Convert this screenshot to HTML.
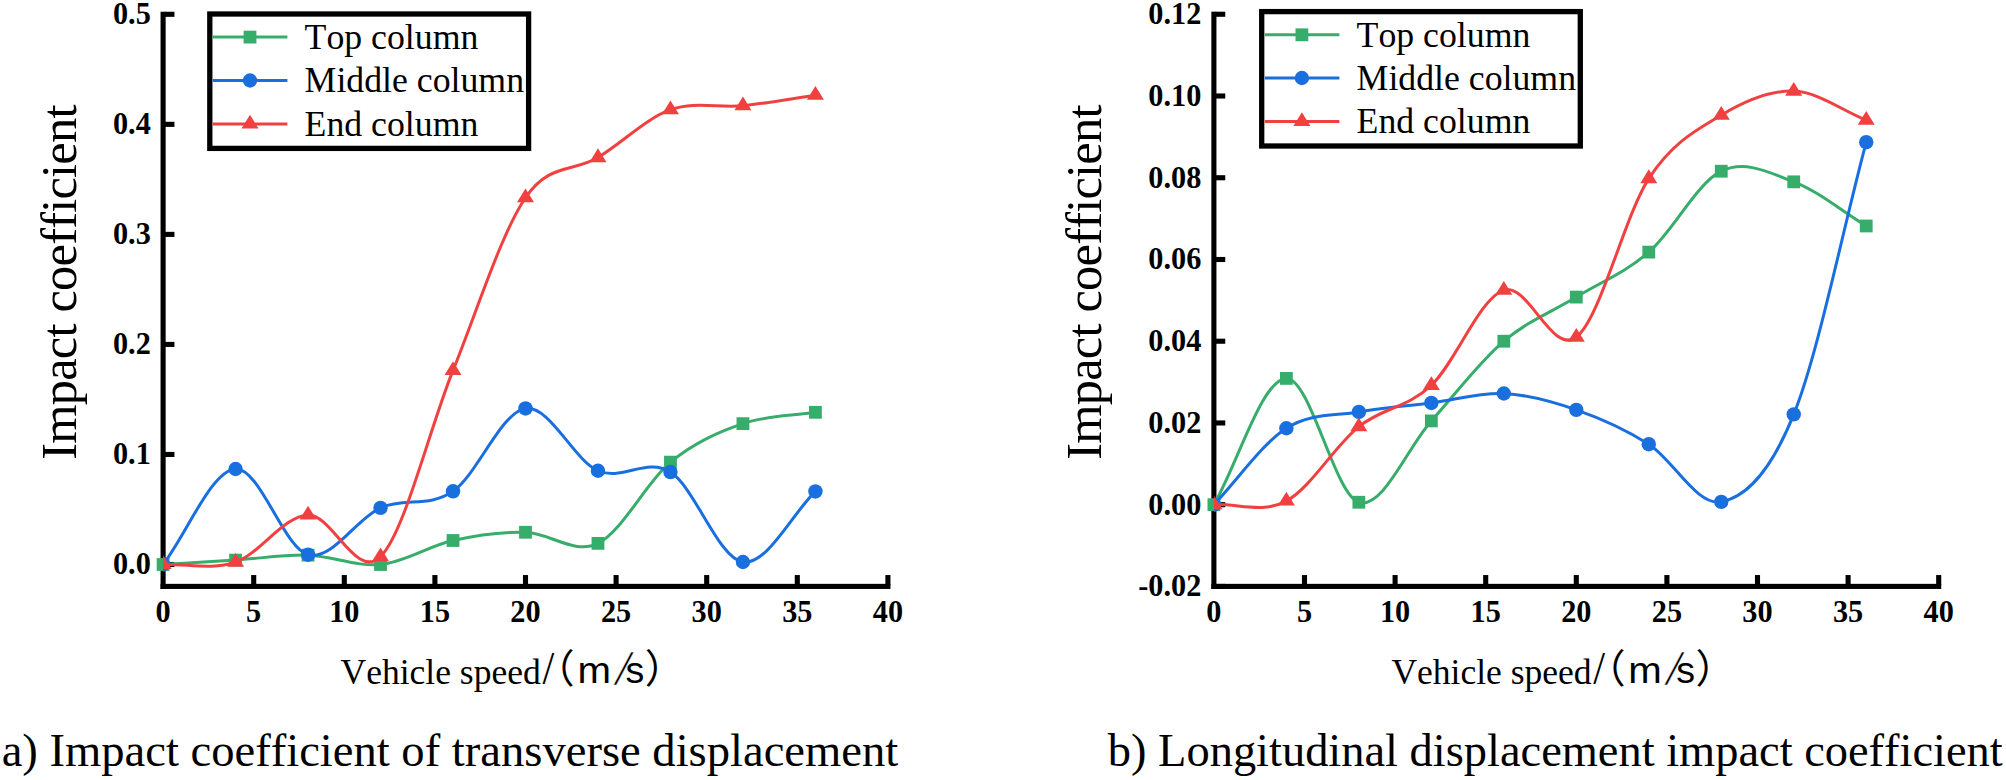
<!DOCTYPE html>
<html lang="en">
<head>
<meta charset="utf-8">
<title>Impact coefficient charts</title>
<style>
html,body{margin:0;padding:0;background:#fff;}
svg{display:block;}
text{fill:#000;font-kerning:none;font-variant-ligatures:none;}
</style>
</head>
<body>
<svg width="2006" height="780" viewBox="0 0 2006 780">
<rect width="2006" height="780" fill="#fff"/>
<g id="left">
<rect x="160.55" y="11.75" width="5.1" height="577.2"/>
<rect x="160.55" y="583.85" width="729.9" height="5.1"/>
<rect x="251.15" y="575.05" width="5.1" height="9.8"/>
<rect x="341.75" y="575.05" width="5.1" height="9.8"/>
<rect x="432.35" y="575.05" width="5.1" height="9.8"/>
<rect x="522.95" y="575.05" width="5.1" height="9.8"/>
<rect x="613.55" y="575.05" width="5.1" height="9.8"/>
<rect x="704.15" y="575.05" width="5.1" height="9.8"/>
<rect x="794.75" y="575.05" width="5.1" height="9.8"/>
<rect x="885.35" y="575.05" width="5.1" height="9.8"/>
<rect x="164.65" y="561.95" width="9.8" height="5.1"/>
<rect x="164.65" y="451.91" width="9.8" height="5.1"/>
<rect x="164.65" y="341.87" width="9.8" height="5.1"/>
<rect x="164.65" y="231.83" width="9.8" height="5.1"/>
<rect x="164.65" y="121.79" width="9.8" height="5.1"/>
<rect x="164.65" y="11.75" width="9.8" height="5.1"/>
<g font-family="'Liberation Serif', serif" font-weight="bold" font-size="30.3px" transform="scale(1,1.035)">
<text x="163.1" y="601.16" text-anchor="middle">0</text>
<text x="253.7" y="601.16" text-anchor="middle">5</text>
<text x="344.3" y="601.16" text-anchor="middle">10</text>
<text x="434.9" y="601.16" text-anchor="middle">15</text>
<text x="525.5" y="601.16" text-anchor="middle">20</text>
<text x="616.1" y="601.16" text-anchor="middle">25</text>
<text x="706.7" y="601.16" text-anchor="middle">30</text>
<text x="797.3" y="601.16" text-anchor="middle">35</text>
<text x="887.9" y="601.16" text-anchor="middle">40</text>
<text x="150.8" y="555.07" text-anchor="end">0.0</text>
<text x="150.8" y="448.75" text-anchor="end">0.1</text>
<text x="150.8" y="342.43" text-anchor="end">0.2</text>
<text x="150.8" y="236.12" text-anchor="end">0.3</text>
<text x="150.8" y="129.8" text-anchor="end">0.4</text>
<text x="150.8" y="23.48" text-anchor="end">0.5</text>
</g>
<clipPath id="clipL"><rect x="163.1" y="0" width="800" height="600"/></clipPath>
<g>
<path d="M163.1,564.5 C187.26,563.03 211.42,561.66 235.58,560.1 C259.74,558.54 283.9,554.41 308.06,555.15 C332.22,555.88 356.38,566.94 380.54,564.5 C404.7,562.06 428.86,545.88 453.02,540.51 C477.18,535.14 501.34,531.78 525.5,532.26 C549.66,532.74 573.82,555.05 597.98,543.37 C622.14,531.69 646.3,482.12 670.46,462.16 C694.62,442.21 718.78,431.96 742.94,423.65 C767.1,415.34 791.26,416.09 815.42,412.31" fill="none" stroke="#37AD6B" stroke-width="3.0" stroke-linejoin="round" stroke-linecap="butt"/>
<rect x="156.7" y="558.1" width="12.8" height="12.8" fill="#37AD6B"/>
<rect x="229.18" y="553.7" width="12.8" height="12.8" fill="#37AD6B"/>
<rect x="301.66" y="548.75" width="12.8" height="12.8" fill="#37AD6B"/>
<rect x="374.14" y="558.1" width="12.8" height="12.8" fill="#37AD6B"/>
<rect x="446.62" y="534.11" width="12.8" height="12.8" fill="#37AD6B"/>
<rect x="519.1" y="525.86" width="12.8" height="12.8" fill="#37AD6B"/>
<rect x="591.58" y="536.97" width="12.8" height="12.8" fill="#37AD6B"/>
<rect x="664.06" y="455.76" width="12.8" height="12.8" fill="#37AD6B"/>
<rect x="736.54" y="417.25" width="12.8" height="12.8" fill="#37AD6B"/>
<rect x="809.02" y="405.91" width="12.8" height="12.8" fill="#37AD6B"/>
</g>
<g clip-path="url(#clipL)">
<path d="M163.1,564.5 C187.26,532.66 211.42,470.62 235.58,468.99 C259.74,467.35 283.9,548.23 308.06,554.71 C332.22,561.18 356.38,518.39 380.54,507.83 C404.7,497.27 428.86,507.88 453.02,491.32 C477.18,474.76 501.34,411.89 525.5,408.46 C549.66,405.03 573.82,460.15 597.98,470.75 C622.14,481.35 646.3,456.86 670.46,472.07 C694.62,487.27 718.78,558.74 742.94,561.97 C767.1,565.2 791.26,514.95 815.42,491.43" fill="none" stroke="#1A6FDF" stroke-width="3.0" stroke-linejoin="round" stroke-linecap="butt"/>
<circle cx="163.1" cy="564.5" r="7.2" fill="#1A6FDF"/>
<circle cx="235.58" cy="468.99" r="7.2" fill="#1A6FDF"/>
<circle cx="308.06" cy="554.71" r="7.2" fill="#1A6FDF"/>
<circle cx="380.54" cy="507.83" r="7.2" fill="#1A6FDF"/>
<circle cx="453.02" cy="491.32" r="7.2" fill="#1A6FDF"/>
<circle cx="525.5" cy="408.46" r="7.2" fill="#1A6FDF"/>
<circle cx="597.98" cy="470.75" r="7.2" fill="#1A6FDF"/>
<circle cx="670.46" cy="472.07" r="7.2" fill="#1A6FDF"/>
<circle cx="742.94" cy="561.97" r="7.2" fill="#1A6FDF"/>
<circle cx="815.42" cy="491.43" r="7.2" fill="#1A6FDF"/>
</g>
<g clip-path="url(#clipL)">
<path d="M163.1,564.5 C187.26,563.69 211.42,570.33 235.58,562.08 C259.74,553.83 283.9,515.88 308.06,514.98 C332.22,514.08 356.38,580.79 380.54,556.69 C404.7,532.59 428.86,430.21 453.02,370.39 C477.18,310.56 501.34,233.21 525.5,197.74 C549.66,162.27 573.82,172.24 597.98,157.57 C622.14,142.9 646.3,118.34 670.46,109.7 C694.62,101.07 718.78,108.16 742.94,105.74 C767.1,103.32 791.26,98.7 815.42,95.18" fill="none" stroke="#F14040" stroke-width="3.0" stroke-linejoin="round" stroke-linecap="butt"/>
<polygon points="163.1,555.3 154.6,569.1 171.6,569.1" fill="#F14040"/>
<polygon points="235.58,552.88 227.08,566.68 244.08,566.68" fill="#F14040"/>
<polygon points="308.06,505.78 299.56,519.58 316.56,519.58" fill="#F14040"/>
<polygon points="380.54,547.49 372.04,561.29 389.04,561.29" fill="#F14040"/>
<polygon points="453.02,361.19 444.52,374.99 461.52,374.99" fill="#F14040"/>
<polygon points="525.5,188.54 517,202.34 534,202.34" fill="#F14040"/>
<polygon points="597.98,148.37 589.48,162.17 606.48,162.17" fill="#F14040"/>
<polygon points="670.46,100.5 661.96,114.3 678.96,114.3" fill="#F14040"/>
<polygon points="742.94,96.54 734.44,110.34 751.44,110.34" fill="#F14040"/>
<polygon points="815.42,85.98 806.92,99.78 823.92,99.78" fill="#F14040"/>
</g>
<rect x="209.8" y="14" width="318.8" height="134.4" fill="#fff" stroke="#000" stroke-width="5.3"/>
<line x1="212.8" y1="37.1" x2="287.4" y2="37.1" stroke="#37AD6B" stroke-width="3.0"/>
<rect x="243.6" y="30.7" width="12.8" height="12.8" fill="#37AD6B"/>
<text x="304.6" y="49.2" font-family="'Liberation Serif', serif" font-size="35.75px">Top column</text>
<line x1="212.8" y1="80.5" x2="287.4" y2="80.5" stroke="#1A6FDF" stroke-width="3.0"/>
<circle cx="250" cy="80.5" r="7.2" fill="#1A6FDF"/>
<text x="304.6" y="92.3" font-family="'Liberation Serif', serif" font-size="35.75px">Middle column</text>
<line x1="212.8" y1="124" x2="287.4" y2="124" stroke="#F14040" stroke-width="3.0"/>
<polygon points="250,114.8 241.5,128.6 258.5,128.6" fill="#F14040"/>
<text x="304.6" y="135.8" font-family="'Liberation Serif', serif" font-size="35.75px">End column</text>
<text transform="translate(75.7,282.2) rotate(-90)" text-anchor="middle" font-family="'Liberation Serif', serif" font-size="50.5px" textLength="355.3" lengthAdjust="spacing">Impact coefficient</text>
<text x="340.6" y="683.6" font-family="'Liberation Serif', serif" font-size="35.5px">Vehicle speed</text>
<text transform="translate(542.4,684.4) scale(0.9,1)" font-family="'Liberation Serif', serif" font-size="47px">/</text>
<text x="535.1" y="682.9" font-family="'Noto Sans CJK SC', sans-serif" font-size="39.6px">（</text>
<text transform="translate(621.7,684.6) scale(0.85,1)" font-family="'Liberation Sans', sans-serif" font-size="48px" stroke="#fff" stroke-width="0.5">⁄</text>
<text transform="translate(577.4,682.7) scale(1.07,1)" font-family="'Liberation Sans', sans-serif" font-size="37.6px">m</text>
<text x="625.5" y="682.7" font-family="'Liberation Sans', sans-serif" font-size="37.6px">s</text>
<text x="644.8" y="682.9" font-family="'Noto Sans CJK SC', sans-serif" font-size="39.6px">）</text>
</g>
<g id="right">
<rect x="1211.35" y="11.65" width="5.1" height="577.3"/>
<rect x="1211.35" y="583.85" width="729.9" height="5.1"/>
<rect x="1301.95" y="575.05" width="5.1" height="9.8"/>
<rect x="1392.55" y="575.05" width="5.1" height="9.8"/>
<rect x="1483.15" y="575.05" width="5.1" height="9.8"/>
<rect x="1573.75" y="575.05" width="5.1" height="9.8"/>
<rect x="1664.35" y="575.05" width="5.1" height="9.8"/>
<rect x="1754.95" y="575.05" width="5.1" height="9.8"/>
<rect x="1845.55" y="575.05" width="5.1" height="9.8"/>
<rect x="1936.15" y="575.05" width="5.1" height="9.8"/>
<rect x="1215.45" y="583.89" width="9.8" height="5.1"/>
<rect x="1215.45" y="502.15" width="9.8" height="5.1"/>
<rect x="1215.45" y="420.41" width="9.8" height="5.1"/>
<rect x="1215.45" y="338.67" width="9.8" height="5.1"/>
<rect x="1215.45" y="256.93" width="9.8" height="5.1"/>
<rect x="1215.45" y="175.19" width="9.8" height="5.1"/>
<rect x="1215.45" y="93.45" width="9.8" height="5.1"/>
<rect x="1215.45" y="11.71" width="9.8" height="5.1"/>
<g font-family="'Liberation Serif', serif" font-weight="bold" font-size="30.3px" transform="scale(1,1.035)">
<text x="1213.9" y="601.16" text-anchor="middle">0</text>
<text x="1304.5" y="601.16" text-anchor="middle">5</text>
<text x="1395.1" y="601.16" text-anchor="middle">10</text>
<text x="1485.7" y="601.16" text-anchor="middle">15</text>
<text x="1576.3" y="601.16" text-anchor="middle">20</text>
<text x="1666.9" y="601.16" text-anchor="middle">25</text>
<text x="1757.5" y="601.16" text-anchor="middle">30</text>
<text x="1848.1" y="601.16" text-anchor="middle">35</text>
<text x="1938.7" y="601.16" text-anchor="middle">40</text>
<text x="1201.3" y="576.27" text-anchor="end">-0.02</text>
<text x="1201.3" y="497.29" text-anchor="end">0.00</text>
<text x="1201.3" y="418.32" text-anchor="end">0.02</text>
<text x="1201.3" y="339.34" text-anchor="end">0.04</text>
<text x="1201.3" y="260.37" text-anchor="end">0.06</text>
<text x="1201.3" y="181.39" text-anchor="end">0.08</text>
<text x="1201.3" y="102.42" text-anchor="end">0.10</text>
<text x="1201.3" y="23.44" text-anchor="end">0.12</text>
</g>
<clipPath id="clipR"><rect x="1213.9" y="0" width="800" height="600"/></clipPath>
<g>
<path d="M1213.9,504.7 C1238.06,462.6 1262.22,378.82 1286.38,378.41 C1310.54,378 1334.7,495.16 1358.86,502.25 C1383.02,509.33 1407.18,447.75 1431.34,420.92 C1455.5,394.08 1479.66,361.86 1503.82,341.22 C1527.98,320.58 1552.14,311.93 1576.3,297.08 C1600.46,282.23 1624.62,273.1 1648.78,252.12 C1672.94,231.14 1697.1,182.92 1721.26,171.2 C1745.42,159.48 1769.58,172.7 1793.74,181.83 C1817.9,190.95 1842.06,211.25 1866.22,225.97" fill="none" stroke="#37AD6B" stroke-width="3.0" stroke-linejoin="round" stroke-linecap="butt"/>
<rect x="1207.5" y="498.3" width="12.8" height="12.8" fill="#37AD6B"/>
<rect x="1279.98" y="372.01" width="12.8" height="12.8" fill="#37AD6B"/>
<rect x="1352.46" y="495.85" width="12.8" height="12.8" fill="#37AD6B"/>
<rect x="1424.94" y="414.52" width="12.8" height="12.8" fill="#37AD6B"/>
<rect x="1497.42" y="334.82" width="12.8" height="12.8" fill="#37AD6B"/>
<rect x="1569.9" y="290.68" width="12.8" height="12.8" fill="#37AD6B"/>
<rect x="1642.38" y="245.72" width="12.8" height="12.8" fill="#37AD6B"/>
<rect x="1714.86" y="164.8" width="12.8" height="12.8" fill="#37AD6B"/>
<rect x="1787.34" y="175.43" width="12.8" height="12.8" fill="#37AD6B"/>
<rect x="1859.82" y="219.57" width="12.8" height="12.8" fill="#37AD6B"/>
</g>
<g clip-path="url(#clipR)">
<path d="M1213.9,504.7 C1238.06,479.22 1262.22,443.74 1286.38,428.27 C1310.54,412.81 1334.7,416.15 1358.86,411.93 C1383.02,407.7 1407.18,406 1431.34,402.93 C1455.5,399.87 1479.66,392.38 1503.82,393.53 C1527.98,394.69 1552.14,401.44 1576.3,409.88 C1600.46,418.33 1624.62,428.89 1648.78,444.21 C1672.94,459.54 1697.1,506.81 1721.26,501.84 C1745.42,496.87 1769.58,474.32 1793.74,414.38 C1817.9,354.43 1842.06,232.91 1866.22,142.18" fill="none" stroke="#1A6FDF" stroke-width="3.0" stroke-linejoin="round" stroke-linecap="butt"/>
<circle cx="1213.9" cy="504.7" r="7.2" fill="#1A6FDF"/>
<circle cx="1286.38" cy="428.27" r="7.2" fill="#1A6FDF"/>
<circle cx="1358.86" cy="411.93" r="7.2" fill="#1A6FDF"/>
<circle cx="1431.34" cy="402.93" r="7.2" fill="#1A6FDF"/>
<circle cx="1503.82" cy="393.53" r="7.2" fill="#1A6FDF"/>
<circle cx="1576.3" cy="409.88" r="7.2" fill="#1A6FDF"/>
<circle cx="1648.78" cy="444.21" r="7.2" fill="#1A6FDF"/>
<circle cx="1721.26" cy="501.84" r="7.2" fill="#1A6FDF"/>
<circle cx="1793.74" cy="414.38" r="7.2" fill="#1A6FDF"/>
<circle cx="1866.22" cy="142.18" r="7.2" fill="#1A6FDF"/>
</g>
<g clip-path="url(#clipR)">
<path d="M1213.9,504.7 C1238.06,503.47 1262.22,514.03 1286.38,501.02 C1310.54,488.01 1334.7,445.92 1358.86,426.64 C1383.02,407.36 1407.18,408.11 1431.34,385.36 C1455.5,362.61 1479.66,298.17 1503.82,290.13 C1527.98,282.09 1552.14,355.73 1576.3,337.13 C1600.46,318.54 1624.62,215.54 1648.78,178.56 C1672.94,141.57 1697.1,129.79 1721.26,115.21 C1745.42,100.63 1769.58,90.28 1793.74,91.1 C1817.9,91.91 1842.06,110.44 1866.22,120.11" fill="none" stroke="#F14040" stroke-width="3.0" stroke-linejoin="round" stroke-linecap="butt"/>
<polygon points="1213.9,495.5 1205.4,509.3 1222.4,509.3" fill="#F14040"/>
<polygon points="1286.38,491.82 1277.88,505.62 1294.88,505.62" fill="#F14040"/>
<polygon points="1358.86,417.44 1350.36,431.24 1367.36,431.24" fill="#F14040"/>
<polygon points="1431.34,376.16 1422.84,389.96 1439.84,389.96" fill="#F14040"/>
<polygon points="1503.82,280.93 1495.32,294.73 1512.32,294.73" fill="#F14040"/>
<polygon points="1576.3,327.93 1567.8,341.73 1584.8,341.73" fill="#F14040"/>
<polygon points="1648.78,169.36 1640.28,183.16 1657.28,183.16" fill="#F14040"/>
<polygon points="1721.26,106.01 1712.76,119.81 1729.76,119.81" fill="#F14040"/>
<polygon points="1793.74,81.9 1785.24,95.7 1802.24,95.7" fill="#F14040"/>
<polygon points="1866.22,110.91 1857.72,124.71 1874.72,124.71" fill="#F14040"/>
</g>
<rect x="1261.7" y="11.6" width="318.6" height="134.4" fill="#fff" stroke="#000" stroke-width="5.3"/>
<line x1="1264.8" y1="34.8" x2="1339.4" y2="34.8" stroke="#37AD6B" stroke-width="3.0"/>
<rect x="1295.5" y="28.4" width="12.8" height="12.8" fill="#37AD6B"/>
<text x="1356.6" y="46.8" font-family="'Liberation Serif', serif" font-size="35.75px">Top column</text>
<line x1="1264.8" y1="78" x2="1339.4" y2="78" stroke="#1A6FDF" stroke-width="3.0"/>
<circle cx="1301.9" cy="78" r="7.2" fill="#1A6FDF"/>
<text x="1356.6" y="89.8" font-family="'Liberation Serif', serif" font-size="35.75px">Middle column</text>
<line x1="1264.8" y1="121.5" x2="1339.4" y2="121.5" stroke="#F14040" stroke-width="3.0"/>
<polygon points="1301.9,112.3 1293.4,126.1 1310.4,126.1" fill="#F14040"/>
<text x="1356.6" y="133.3" font-family="'Liberation Serif', serif" font-size="35.75px">End column</text>
<text transform="translate(1101.2,282.2) rotate(-90)" text-anchor="middle" font-family="'Liberation Serif', serif" font-size="50.5px" textLength="355.3" lengthAdjust="spacing">Impact coefficient</text>
<text x="1391.4" y="683.6" font-family="'Liberation Serif', serif" font-size="35.5px">Vehicle speed</text>
<text transform="translate(1593.2,684.4) scale(0.9,1)" font-family="'Liberation Serif', serif" font-size="47px">/</text>
<text x="1585.9" y="682.9" font-family="'Noto Sans CJK SC', sans-serif" font-size="39.6px">（</text>
<text transform="translate(1672.5,684.6) scale(0.85,1)" font-family="'Liberation Sans', sans-serif" font-size="48px" stroke="#fff" stroke-width="0.5">⁄</text>
<text transform="translate(1628.2,682.7) scale(1.07,1)" font-family="'Liberation Sans', sans-serif" font-size="37.6px">m</text>
<text x="1676.3" y="682.7" font-family="'Liberation Sans', sans-serif" font-size="37.6px">s</text>
<text x="1695.6" y="682.9" font-family="'Noto Sans CJK SC', sans-serif" font-size="39.6px">）</text>
</g>
<text x="1.7" y="765.5" font-family="'Liberation Serif', serif" font-size="46.6px">a) Impact coefficient of transverse displacement</text>
<text x="1107.8" y="766" font-family="'Liberation Serif', serif" font-size="46.45px">b) Longitudinal displacement impact coefficient</text>
</svg>
</body>
</html>
